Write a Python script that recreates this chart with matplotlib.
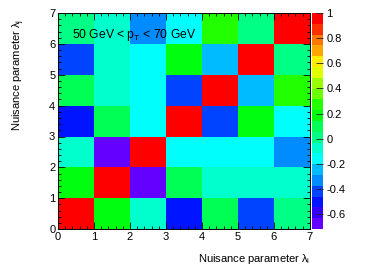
"""
Correlation matrix of nuisance parameters.
"""

import colorsys

import matplotlib

matplotlib.use("Agg")

import matplotlib.pyplot as plt
import numpy as np
from matplotlib.colors import BoundaryNorm, ListedColormap
from matplotlib.ticker import MultipleLocator

# -----------------------------------------
# Data
# -----------------------------------------

n_params = 7

# rows = lambda_j (bottom to top), columns = lambda_i
correlation = [
    [1.00, 0.18, -0.08, -0.50, 0.10, -0.42, 0.01],
    [0.18, 1.00, -0.72, 0.10, -0.08, -0.08, -0.08],
    [-0.08, -0.72, 1.00, -0.16, -0.16, -0.16, -0.33],
    [-0.50, 0.10, -0.16, 1.00, -0.42, 0.18, -0.16],
    [0.10, -0.08, -0.16, -0.42, 1.00, -0.25, 0.27],
    [-0.42, -0.08, -0.16, 0.18, -0.25, 1.00, 0.01],
    [0.01, -0.08, -0.33, -0.16, 0.27, 0.01, 1.00],
]

colorbar_ticks = [-0.6, -0.4, -0.2, 0, 0.2, 0.4, 0.6, 0.8, 1]

label_text = "50 GeV < p$_{\\mathrm{T}}$ < 70 GeV"

# -----------------------------------------
# Palette (ROOT "pretty" palette, 20 contours)
# -----------------------------------------

n_levels = 20
n_palette = 50

colors = []
for k in range(n_levels):
    idx = int((k + 0.99) * n_palette / n_levels)
    hue = 280.0 - (idx + 1) * (280.0 / n_palette)
    colors.append(colorsys.hls_to_rgb(hue / 360.0, 0.5, 1.0))

matrix = np.array(correlation)
zmin = matrix.min()
zmax = matrix.max()
levels = np.linspace(zmin, zmax, n_levels + 1)

cmap = ListedColormap(colors)
norm = BoundaryNorm(levels, n_levels)

# -----------------------------------------
# Figure
# -----------------------------------------

plt.rcParams["font.family"] = ["Liberation Sans", "DejaVu Sans"]
plt.rcParams["mathtext.fontset"] = "custom"
plt.rcParams["mathtext.rm"] = "Liberation Sans"
plt.rcParams["mathtext.it"] = "Liberation Sans:italic"

fig = plt.figure(figsize=(3.65, 2.73), dpi=100)

ax = fig.add_axes([0.159, 0.161, 0.690, 0.791])
cax = fig.add_axes([0.854, 0.161, 0.032, 0.791])

edges = np.arange(n_params + 1)

mesh = ax.pcolormesh(
    edges,
    edges,
    matrix,
    cmap=cmap,
    norm=norm,
)

ax.set_xlim(0, n_params)
ax.set_ylim(0, n_params)

ax.xaxis.set_major_locator(MultipleLocator(1))
ax.yaxis.set_major_locator(MultipleLocator(1))
ax.xaxis.set_minor_locator(MultipleLocator(0.2))
ax.yaxis.set_minor_locator(MultipleLocator(0.2))

ax.tick_params(
    which="both",
    direction="in",
    top=True,
    right=True,
    labelsize=8,
    width=0.6,
    pad=2,
)
ax.tick_params(which="major", length=5)
ax.tick_params(which="minor", length=2.5)

for spine in ax.spines.values():
    spine.set_linewidth(0.7)

ax.set_xlabel("Nuisance parameter λ$_{\\mathrm{i}}$", fontsize=8)
ax.xaxis.set_label_coords(1.0, -0.105)
ax.xaxis.label.set_horizontalalignment("right")

ax.set_ylabel("Nuisance parameter λ$_{\\mathrm{j}}$", fontsize=8)
ax.yaxis.set_label_coords(-0.122, 0.975)
ax.yaxis.label.set_horizontalalignment("right")

ax.text(
    0.055,
    0.90,
    label_text,
    transform=ax.transAxes,
    fontsize=8.7,
    ha="left",
    va="center",
)

# -----------------------------------------
# Colour bar
# -----------------------------------------

cbar = fig.colorbar(
    mesh,
    cax=cax,
    boundaries=levels,
    ticks=colorbar_ticks,
)
cbar.outline.set_visible(False)
cbar.ax.set_yticklabels(["%g" % t for t in colorbar_ticks])
cbar.ax.tick_params(
    direction="in",
    length=5,
    width=0.6,
    labelsize=8,
    pad=2,
    color="#202020",
)
cbar.ax.minorticks_off()

fig.savefig("out.png", dpi=100)

plt.close(fig)
